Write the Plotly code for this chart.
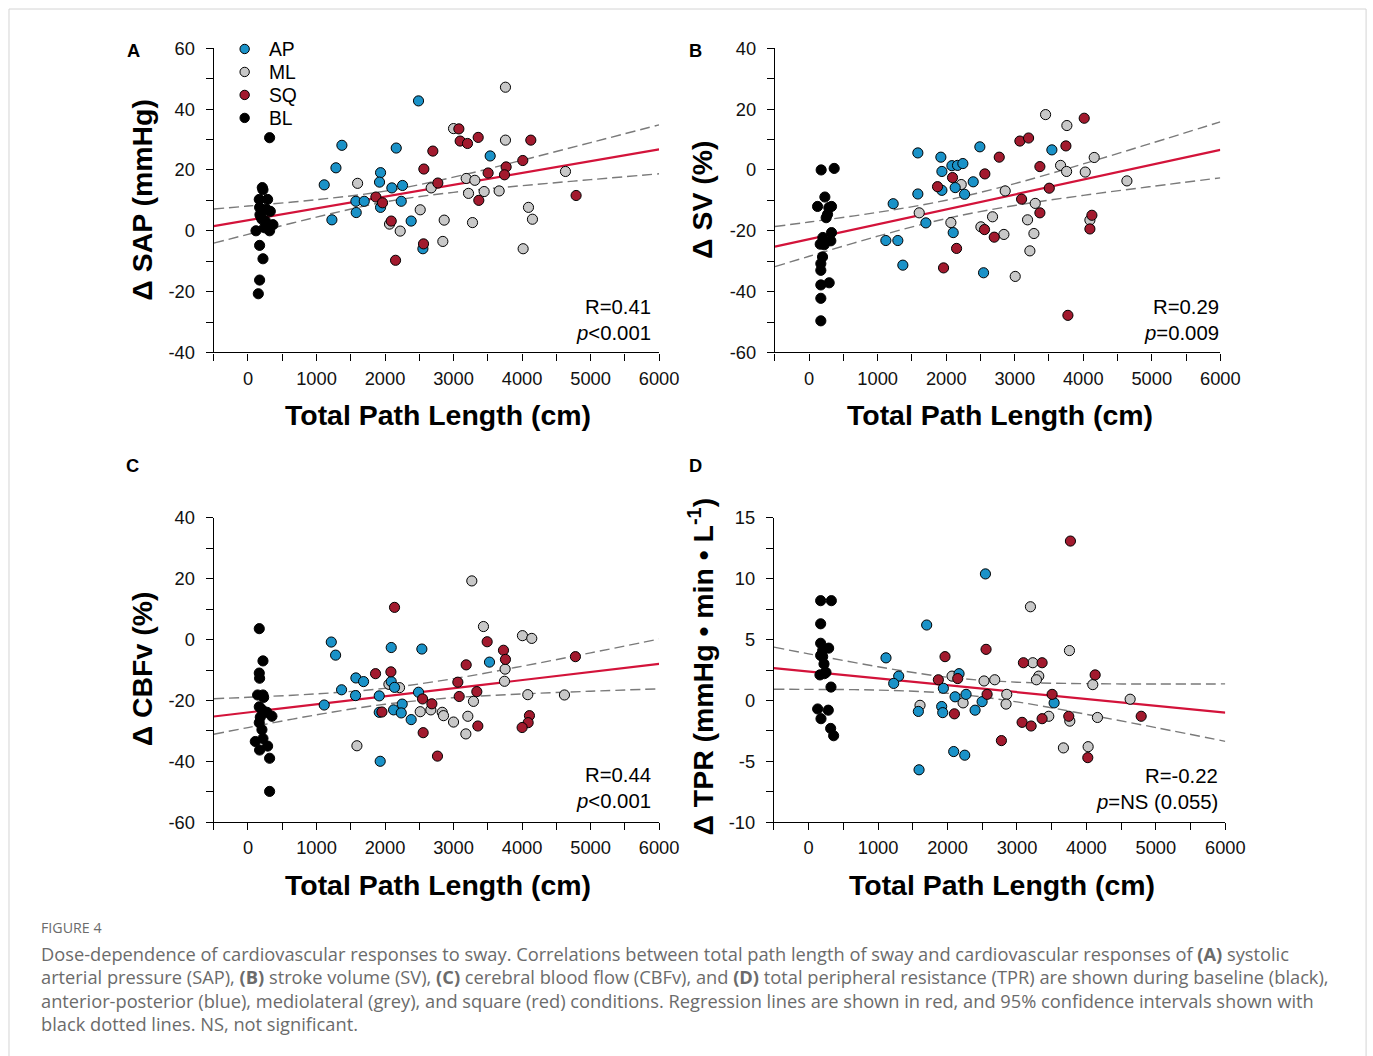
import plotly.graph_objects as go

# canvas size and the mapping from target-picture pixels to layout pixels
W, H = 1391, 1066
SX, SY, OX, OY = 0.987, 0.981, -1.0, 10.0
FS = 1 / 0.984

# ---------------- data ----------------
groups = ["AP", "ML", "SQ", "BL"]
group_colors = {"AP": "#1A92C8", "ML": "#C8C8C8", "SQ": "#A21A2E", "BL": "#000000"}

fit_x = [-500, 0, 1000, 2000, 3000, 4000, 5000, 6000]
x_tickvals = [0, 1000, 2000, 3000, 4000, 5000, 6000]
x_minorvals = [-500, 500, 1500, 2500, 3500, 4500, 5500]

# Panel A: Δ SAP (mmHg)
A_BL_x = [316, 209, 219, 165, 287, 170, 326, 175, 204, 253, 365, 316, 117, 170, 219, 170, 151, 190, 240, 270]
A_BL_y = [30.6, 14.2, 13.5, 10.3, 10.3, 7.7, 6.4, 5.3, 3.8, 3.3, 2.0, 0.0, 0.0, -4.8, -9.2, -16.2, -20.7, 4.5, 1.0, 7.0]
A_AP_x = [2489, 1371, 2164, 3535, 1284, 1935, 1113, 1920, 2256, 2100, 1575, 1697, 2237, 1935, 1580, 1225, 2382, 2553]
A_AP_y = [42.7, 28.1, 27.2, 24.6, 20.7, 19.1, 15.1, 16.0, 14.9, 14.1, 9.7, 9.7, 9.7, 7.7, 6.0, 3.6, 3.2, -5.9]
A_ML_x = [3758, 3000, 3758, 3185, 3311, 2674, 1600, 3219, 3447, 3666, 4634, 4094, 4152, 2514, 2864, 3277, 2066, 2222, 2844, 4016]
A_ML_y = [47.2, 33.6, 29.8, 17.2, 16.6, 14.1, 15.6, 12.3, 12.9, 13.1, 19.5, 7.7, 3.8, 6.9, 3.5, 2.7, 2.2, -0.1, -3.5, -5.9]
A_SQ_x = [3078, 3097, 3204, 3360, 4128, 2698, 2567, 4011, 3768, 3744, 3505, 2771, 4789, 1867, 1964, 3369, 2091, 2562, 2154]
A_SQ_y = [33.5, 29.5, 28.7, 30.7, 29.8, 26.2, 20.3, 23.1, 21.0, 18.4, 19.0, 15.7, 11.6, 11.1, 9.2, 10.0, 3.2, -4.3, -9.7]
A_fit = [1.54, 3.48, 7.36, 11.25, 15.13, 19.01, 22.90, 26.78]
A_upper = [7.14, 8.13, 10.23, 13.02, 17.62, 23.19, 28.99, 34.83]
A_lower = [-4.06, -1.17, 4.49, 9.48, 12.64, 14.83, 16.81, 18.73]
A_yticks = [-40, -20, 0, 20, 40, 60]

# Panel B: Δ SV (%)
B_BL_x = [175, 365, 229, 122, 326, 268, 248, 326, 316, 161, 219, 195, 170, 170, 170, 292, 170, 170, 287, 200]
B_BL_y = [0.0, 0.5, -8.9, -12.0, -12.0, -14.6, -15.7, -20.6, -23.3, -24.4, -24.6, -28.6, -30.8, -33.0, -37.8, -37.1, -42.2, -49.6, -12.4, -22.2]
B_AP_x = [1586, 1922, 2491, 3542, 2083, 2165, 2243, 1937, 2394, 1586, 1937, 2131, 2268, 1226, 1703, 2102, 1119, 1294, 1367, 2545]
B_AP_y = [5.6, 4.2, 7.6, 6.6, 1.4, 1.5, 2.1, -0.5, -3.9, -7.9, -6.7, -5.8, -8.0, -11.1, -17.4, -20.6, -23.2, -23.2, -31.3, -33.8]
B_ML_x = [3450, 3761, 4160, 3669, 3757, 4029, 4637, 2219, 2861, 1606, 3299, 2676, 3187, 2068, 2506, 4097, 2842, 3280, 3221, 3007]
B_ML_y = [18.2, 14.6, 4.1, 1.5, -0.5, -0.7, -3.6, -4.8, -6.9, -14.1, -11.0, -15.4, -16.4, -17.3, -18.7, -16.5, -21.2, -20.9, -26.6, -35.0]
B_SQ_x = [4014, 3075, 3202, 3747, 2774, 3367, 2092, 2564, 1873, 3504, 3100, 3367, 4126, 4097, 2559, 2701, 2151, 1961, 3776]
B_SQ_y = [17.0, 9.5, 10.5, 7.9, 4.2, 1.1, -2.5, -1.3, -5.5, -6.0, -9.6, -14.1, -14.9, -19.4, -19.6, -22.1, -25.8, -32.2, -47.8]
B_fit = [-25.2, -22.75, -17.86, -12.97, -8.08, -3.19, 1.70, 6.60]
B_upper = [-18.6, -17.12, -13.94, -9.96, -4.49, 1.98, 8.82, 15.80]
B_lower = [-31.8, -28.38, -21.78, -15.98, -11.67, -8.36, -5.42, -2.60]
B_yticks = [-60, -40, -20, 0, 20, 40]

# Panel C: Δ CBFv (%)
C_BL_x = [165, 219, 165, 170, 141, 219, 165, 204, 277, 350, 165, 204, 219, 107, 170, 287, 316, 316, 229, 180]
C_BL_y = [3.6, -7.0, -11.0, -12.7, -18.2, -18.2, -22.1, -23.0, -23.9, -25.2, -27.3, -29.6, -32.5, -33.5, -36.3, -35.0, -39.0, -49.9, -19.0, -25.5]
C_AP_x = [1216, 1279, 2091, 2538, 3525, 1366, 1575, 1687, 1570, 1916, 2091, 2139, 1113, 2489, 2251, 2125, 2237, 1916, 2382, 1930]
C_AP_y = [-0.8, -5.1, -2.6, -3.1, -7.4, -16.5, -12.6, -13.8, -18.4, -18.5, -13.8, -15.7, -21.5, -17.3, -21.2, -23.1, -24.1, -23.9, -26.3, -40.0]
C_ML_x = [3267, 3437, 4006, 4142, 3753, 3744, 2057, 2212, 4084, 4619, 3291, 2669, 2514, 2835, 2854, 3000, 3209, 3180, 1590]
C_ML_y = [19.3, 4.3, 1.3, 0.4, -9.7, -13.7, -14.7, -15.8, -18.1, -18.2, -20.3, -23.1, -23.7, -23.9, -25.0, -27.1, -25.2, -31.0, -34.9]
C_SQ_x = [2139, 3491, 3729, 3758, 4779, 3185, 1862, 2086, 3063, 3340, 3083, 2548, 2684, 1955, 4108, 4089, 4001, 3355, 2557, 2766]
C_SQ_y = [10.6, -0.7, -3.5, -6.5, -5.6, -8.3, -11.2, -10.6, -14.0, -17.1, -18.7, -19.5, -21.1, -23.8, -25.0, -27.3, -28.9, -28.4, -30.6, -38.3]
C_fit = [-25.27, -23.94, -21.28, -18.63, -15.97, -13.31, -10.66, -8.00]
C_upper = [-19.42, -18.96, -17.84, -16.02, -12.84, -8.75, -4.35, 0.17]
C_lower = [-31.12, -28.92, -24.72, -21.24, -19.10, -17.87, -16.97, -16.17]
C_yticks = [-60, -40, -20, 0, 20, 40]

# Panel D: Δ TPR (mmHg • min • L^-1)
D_BL_x = [173, 327, 173, 173, 202, 288, 173, 221, 250, 163, 322, 130, 283, 178, 317, 360, 202, 226]
D_BL_y = [8.2, 8.2, 6.3, 4.7, 4.1, 4.3, 3.7, 3.0, 2.3, 2.1, 1.1, -0.7, -0.8, -1.5, -2.3, -2.9, 3.6, 2.2]
D_AP_x = [2546, 1700, 1114, 1297, 1225, 2166, 1940, 2109, 2267, 2498, 3535, 1916, 1931, 1580, 2397, 2089, 2248, 1590]
D_AP_y = [10.4, 6.2, 3.5, 2.0, 1.4, 2.2, 1.0, 0.3, 0.5, -0.1, -0.2, -0.5, -1.0, -0.9, -0.8, -4.2, -4.5, -5.7]
D_ML_x = [3194, 3756, 3228, 2065, 2526, 2680, 3314, 3280, 4092, 2853, 4630, 2843, 2224, 1604, 3458, 3761, 4159, 3669, 4025]
D_ML_y = [7.7, 4.1, 3.1, 2.0, 1.6, 1.7, 2.0, 1.7, 1.3, 0.5, 0.1, -0.3, -0.2, -0.4, -1.3, -1.7, -1.4, -3.9, -3.8]
D_SQ_x = [3770, 2555, 1964, 3093, 3362, 1868, 2147, 4126, 2570, 3506, 2099, 3746, 3362, 3074, 3204, 4789, 2776, 4020]
D_SQ_y = [13.1, 4.2, 3.6, 3.1, 3.1, 1.7, 1.8, 2.1, 0.5, 0.5, -1.1, -1.3, -1.5, -1.8, -2.1, -1.3, -3.3, -4.7]
D_fit = [2.65, 2.37, 1.81, 1.25, 0.69, 0.12, -0.44, -1.00]
D_upper = [4.38, 3.83, 2.77, 1.91, 1.50, 1.38, 1.35, 1.36]
D_lower = [0.92, 0.91, 0.85, 0.59, -0.12, -1.14, -2.23, -3.36]
D_yticks = [-10, -5, 0, 5, 10, 15]

stats_R = ["R=0.41", "R=0.29", "R=0.44", "R=-0.22"]
stats_p = ["<i>p</i>&lt;0.001", "<i>p</i>=0.009", "<i>p</i>&lt;0.001", "<i>p</i>=NS (0.055)"]
y_titles = ["Δ SAP (mmHg)", "Δ SV (%)", "Δ CBFv (%)", "Δ TPR (mmHg • min • L<sup>-1</sup>)"]
x_title = "Total Path Length (cm)"
panel_letters = ["A", "B", "C", "D"]

caption_head = "FIGURE 4"
caption_lines = [
    "Dose-dependence of cardiovascular responses to sway. Correlations between total path length of sway and cardiovascular responses of <b>(A)</b> systolic",
    "arterial pressure (SAP), <b>(B)</b> stroke volume (SV), <b>(C)</b> cerebral blood flow (CBFv), and <b>(D)</b> total peripheral resistance (TPR) are shown during baseline (black),",
    "anterior-posterior (blue), mediolateral (grey), and square (red) conditions. Regression lines are shown in red, and 95% confidence intervals shown with",
    "black dotted lines. NS, not significant.",
]

panel_data = [
    dict(pts={"AP": (A_AP_x, A_AP_y), "ML": (A_ML_x, A_ML_y), "SQ": (A_SQ_x, A_SQ_y), "BL": (A_BL_x, A_BL_y)},
         fit=A_fit, up=A_upper, lo=A_lower, yt=A_yticks),
    dict(pts={"AP": (B_AP_x, B_AP_y), "ML": (B_ML_x, B_ML_y), "SQ": (B_SQ_x, B_SQ_y), "BL": (B_BL_x, B_BL_y)},
         fit=B_fit, up=B_upper, lo=B_lower, yt=B_yticks),
    dict(pts={"AP": (C_AP_x, C_AP_y), "ML": (C_ML_x, C_ML_y), "SQ": (C_SQ_x, C_SQ_y), "BL": (C_BL_x, C_BL_y)},
         fit=C_fit, up=C_upper, lo=C_lower, yt=C_yticks),
    dict(pts={"AP": (D_AP_x, D_AP_y), "ML": (D_ML_x, D_ML_y), "SQ": (D_SQ_x, D_SQ_y), "BL": (D_BL_x, D_BL_y)},
         fit=D_fit, up=D_upper, lo=D_lower, yt=D_yticks),
]

# ---------------- layout geometry (target pixels) ----------------
panel_geo = [
    dict(x0=213, x1=659, y0=47.3, y1=351.7, yr=[-40, 60], mdt=10),
    dict(x0=775, x1=1221, y0=47.3, y1=351.7, yr=[-60, 40], mdt=10),
    dict(x0=213, x1=659, y0=517.3, y1=821.7, yr=[-60, 40], mdt=10),
    dict(x0=774, x1=1226, y0=517.3, y1=821.7, yr=[-10, 15], mdt=2.5),
]


def px(x):
    return ((x - OX) / SX) / W


def py(y):
    return 1 - ((y - OY) / SY) / H


def fs(s):
    return s * FS


FONT = "Liberation Sans, Arial, Helvetica, sans-serif"
fig = go.Figure()

for i, (pdat, geo) in enumerate(zip(panel_data, panel_geo)):
    n = "" if i == 0 else str(i + 1)
    xa, ya = "x" + n, "y" + n
    for band in ("up", "lo"):
        fig.add_trace(go.Scatter(x=fit_x, y=pdat[band], mode="lines", xaxis=xa, yaxis=ya,
                                 line=dict(color="#7a7a7a", width=1.4, dash="10px,5px", shape="spline"),
                                 showlegend=False, hoverinfo="skip"))
    fig.add_trace(go.Scatter(x=fit_x, y=pdat["fit"], mode="lines", xaxis=xa, yaxis=ya,
                             line=dict(color="#D3133A", width=2.2), showlegend=False, hoverinfo="skip"))
    for g in ["BL", "ML", "AP", "SQ"]:
        gx, gy = pdat["pts"][g]
        fig.add_trace(go.Scatter(
            x=gx, y=gy, mode="markers", xaxis=xa, yaxis=ya, name=g,
            marker=dict(size=fs(10), color=group_colors[g], line=dict(color="#000000", width=1)),
            showlegend=False))

    axis_common = dict(showgrid=False, zeroline=False, showline=True, linecolor="#000", linewidth=1.3,
                       ticks="outside", ticklen=7, tickwidth=1.3, tickcolor="#000",
                       tickfont=dict(family=FONT, size=fs(18), color="#111"))
    fig.layout["xaxis" + n] = dict(
        axis_common, domain=[px(geo["x0"]), px(geo["x1"])], anchor=ya, range=[-500, 6000],
        tickmode="array", tickvals=x_tickvals, ticktext=[str(v) for v in x_tickvals],
        minor=dict(tickmode="array", tickvals=x_minorvals,
                   ticks="outside", ticklen=7, tickwidth=1.3, tickcolor="#000"),
        ticklabelstandoff=2)
    fig.layout["yaxis" + n] = dict(
        axis_common, domain=[py(geo["y1"]), py(geo["y0"])], anchor=xa, range=geo["yr"],
        tickmode="array", tickvals=pdat["yt"], ticktext=[str(v) for v in pdat["yt"]],
        minor=dict(dtick=geo["mdt"], tick0=0, ticks="outside", ticklen=7, tickwidth=1.3, tickcolor="#000"),
        ticklabelstandoff=7)

annotations = []
shapes = []
letter_pos = [(133, 50), (695, 50), (132, 465), (695, 465)]
ytitle_pos = [(141, 199), (702, 199), (141, 668), (701, 666)]
stats_pos = [(653, 306, 332), (1222, 306, 332), (653, 775, 801), (1221, 776, 802)]
for i in range(4):
    geo = panel_geo[i]
    lx, ly = letter_pos[i]
    annotations.append(dict(text="<b>%s</b>" % panel_letters[i], x=px(lx), y=py(ly), xref="paper", yref="paper",
                            showarrow=False, xanchor="center", yanchor="middle",
                            font=dict(family=FONT, size=fs(18), color="#000")))
    tx, ty = ytitle_pos[i]
    annotations.append(dict(text="<b>%s</b>" % y_titles[i], x=px(tx), y=py(ty), xref="paper", yref="paper",
                            showarrow=False, textangle=-90, xanchor="center", yanchor="middle",
                            font=dict(family=FONT, size=fs(28), color="#000")))
    annotations.append(dict(text="<b>%s</b>" % x_title, x=px((geo["x0"] + geo["x1"]) / 2 + 2),
                            y=py(geo["y1"] + 63), xref="paper", yref="paper",
                            showarrow=False, xanchor="center", yanchor="middle",
                            font=dict(family=FONT, size=fs(28), color="#000")))
    sx, sy1, sy2 = stats_pos[i]
    annotations.append(dict(text=stats_R[i], x=px(sx), y=py(sy1), xref="paper", yref="paper",
                            showarrow=False, xanchor="right", yanchor="middle",
                            font=dict(family=FONT, size=fs(20), color="#000")))
    annotations.append(dict(text=stats_p[i], x=px(sx), y=py(sy2), xref="paper", yref="paper",
                            showarrow=False, xanchor="right", yanchor="middle",
                            font=dict(family=FONT, size=fs(20), color="#000")))

# manual legend (panel A)
leg_x, leg_y0, leg_dy, leg_r = 244, 48, 23, 4.7
for k, g in enumerate(groups):
    cy = leg_y0 + k * leg_dy
    shapes.append(dict(type="circle", xref="paper", yref="paper",
                       x0=px(leg_x - leg_r), x1=px(leg_x + leg_r), y0=py(cy + leg_r), y1=py(cy - leg_r),
                       fillcolor=group_colors[g], line=dict(color="#000", width=1)))
    annotations.append(dict(text=g, x=px(266), y=py(cy + 1), xref="paper", yref="paper", showarrow=False,
                            xanchor="left", yanchor="middle", font=dict(family=FONT, size=fs(19), color="#000")))

CAP_FONT = "Open Sans, Lato, sans-serif"
annotations.append(dict(text=caption_head, x=px(38), y=py(927), xref="paper", yref="paper", showarrow=False,
                        xanchor="left", yanchor="middle", font=dict(family=CAP_FONT, size=fs(14), color="#6b6b6b")))
for k, line in enumerate(caption_lines):
    annotations.append(dict(text=line, x=px(38), y=py(953 + k * 23.5), xref="paper", yref="paper",
                            showarrow=False, xanchor="left", yanchor="middle",
                            font=dict(family=CAP_FONT, size=18.25, color="#6b6b6b")))

# frame around the figure
shapes.append(dict(type="path", xref="paper", yref="paper",
                   path="M %f,%f L %f,%f L %f,%f L %f,%f" % (px(8), 0.0, px(8), py(8), px(1367), py(8),
                                                             px(1367), 0.0),
                   line=dict(color="#d4d4d4", width=1), layer="below"))

fig.update_layout(
    width=W, height=H, autosize=False,
    margin=dict(l=0, r=0, t=0, b=0),
    paper_bgcolor="white", plot_bgcolor="white",
    annotations=annotations,
    shapes=shapes,
    showlegend=False,
)

fig.write_html("out.html")
